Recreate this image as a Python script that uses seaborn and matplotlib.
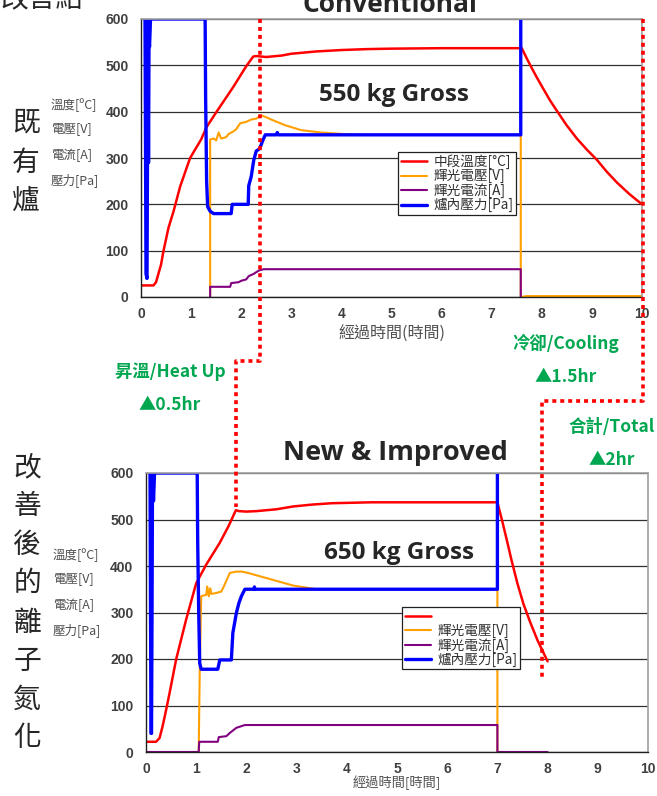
import matplotlib
matplotlib.use("Agg")
import matplotlib.pyplot as plt
import seaborn as sns
from matplotlib.lines import Line2D

# ---- conventional furnace (top) ----
top_temp_t = [0, 0.25, 0.3, 0.4, 0.45, 0.55, 0.65, 0.78, 0.98, 1.2, 1.31, 1.51, 1.84, 2.1, 2.24,
              2.3, 2.5, 2.8, 3.0, 3.5, 4.0, 4.5, 5.0, 6.0, 7.6, 7.7, 7.8, 7.9, 8.0, 8.16, 8.3,
              8.5, 8.7, 8.9, 9.1, 9.3, 9.5, 9.75, 10.0]
top_temp = [25, 25, 32, 70, 100, 150, 185, 238, 300, 340, 367, 400, 453, 498, 519,
            520, 518, 521, 525, 530, 533, 535, 536, 537, 537, 515, 494, 474, 455, 425, 402,
            370, 342, 318, 296, 270, 247, 222, 200]

top_volt_t = [1.38, 1.38, 1.45, 1.5, 1.55, 1.6, 1.7, 1.75, 1.84, 1.9, 1.98, 2.1, 2.2, 2.3, 2.4,
              2.5, 2.6, 2.87, 3.2, 3.6, 4.0, 4.5, 5.5, 7.58, 7.58, 7.7, 10.0]
top_volt = [0, 340, 342, 338, 355, 342, 345, 352, 357, 362, 375, 378, 383, 385, 392,
            388, 383, 371, 360, 355, 352, 350, 350, 350, 0, 2, 2]

top_curr_t = [1.38, 1.38, 1.78, 1.8, 1.95, 2.0, 2.1, 2.15, 2.25, 2.35, 2.45, 7.58, 7.58]
top_curr = [0, 22, 22, 30, 32, 35, 38, 45, 50, 57, 60, 60, 0]

top_pres_t = [0.08, 0.1, 0.12, 0.13, 0.14, 0.15, 0.16, 0.17, 0.19, 1.28, 1.29, 1.31, 1.33, 1.38,
              1.45, 1.8, 1.82, 2.14, 2.15, 2.2, 2.25, 2.3, 2.37, 2.42, 2.48, 2.7, 2.72, 2.74,
              7.58, 7.58]
top_pres = [600, 50, 40, 300, 600, 290, 560, 540, 600, 600, 430, 250, 195, 185,
            180, 180, 200, 200, 240, 260, 295, 315, 320, 335, 350, 350, 355, 350,
            350, 600]

# ---- improved furnace (bottom) ----
bot_temp_t = [0, 0.2, 0.27, 0.33, 0.4, 0.47, 0.6, 0.8, 1.0, 1.2, 1.47, 1.65, 1.79, 1.85, 2.0,
              2.2, 2.6, 2.93, 3.3, 3.7, 4.5, 7.0, 7.1, 7.2, 7.28, 7.4, 7.52, 7.65, 7.8, 8.0]
bot_temp = [22, 22, 30, 55, 90, 127, 199, 285, 363, 403, 450, 487, 520, 518, 517,
            518, 522, 528, 532, 535, 537, 537, 495, 450, 413, 362, 318, 280, 240, 195]

bot_volt_t = [1.05, 1.07, 1.1, 1.2, 1.22, 1.25, 1.28, 1.3, 1.4, 1.5, 1.55, 1.67, 1.8, 1.9,
              2.0, 2.4, 2.93, 3.4, 7.0, 7.0]
bot_volt = [0, 170, 335, 338, 356, 335, 352, 340, 342, 345, 356, 385, 388, 388,
            386, 374, 358, 350, 350, 0]

bot_curr_t = [0, 1.05, 1.06, 1.43, 1.45, 1.6, 1.67, 1.8, 1.97, 7.0, 7.0, 8.0]
bot_curr = [0, 0, 22, 22, 32, 34, 41, 52, 58, 58, 0, 0]

bot_pres_t = [0.08, 0.09, 0.1, 0.11, 0.12, 0.13, 0.15, 0.17, 1.02, 1.03, 1.05, 1.07, 1.1,
              1.43, 1.47, 1.7, 1.73, 1.8, 1.85, 1.9, 1.97, 2.15, 2.16, 2.17, 7.0, 7.0]
bot_pres = [600, 300, 40, 40, 300, 600, 540, 600, 600, 450, 300, 191, 178,
            178, 198, 198, 256, 299, 320, 335, 350, 350, 355, 350, 350, 600]

top_labels = ["中段溫度[°C]", "輝光電壓[V]", "輝光電流[A]", "爐內壓力[Pa]"]
bot_labels = ["", "輝光電壓[V]", "輝光電流[A]", "爐內壓力[Pa]"]
colors = ["#ff0000", "#ffa000", "#800080", "#0000ff"]
widths = [1.8, 1.5, 1.5, 2.4]
x_ticks = list(range(0, 11))
y_ticks = [0, 100, 200, 300, 400, 500, 600]

sns.set_style("white")
plt.rcParams['font.family'] = ['Noto Sans CJK TC', 'DejaVu Sans']

W, H = 657, 796
fig = plt.figure(figsize=(W / 100, H / 100), dpi=100)


def fx(px):
    return px / W


def fy(py):
    return 1 - py / H


def draw_panel(ax, series, labels, xlabel, xlabel_size, xlabel_pad, leg_anchor):
    for (t, v), c, lw in zip(series, colors, widths):
        sns.lineplot(x=t, y=v, ax=ax, color=c, lw=lw, sort=False, estimator=None)
    ax.set_xlim(0, 10)
    ax.set_ylim(0, 600)
    ax.set_xticks(x_ticks)
    ax.set_yticks(y_ticks)
    ax.yaxis.grid(True, color="#303030", lw=0.9)
    ax.xaxis.grid(False)
    for s in ["left", "bottom"]:
        ax.spines[s].set_color("#202020")
        ax.spines[s].set_linewidth(1.0)
    for s in ["top", "right"]:
        ax.spines[s].set_color("#a0a0a0")
        ax.spines[s].set_linewidth(1.2)
    ax.tick_params(axis="x", direction="in", length=4, width=0.8, color="#303030",
                   labelsize=10, labelcolor="#404040", pad=7)
    ax.tick_params(axis="y", length=0, labelsize=10, labelcolor="#404040", pad=9)
    for lb in ax.get_xticklabels() + ax.get_yticklabels():
        lb.set_fontweight("bold")
        lb.set_family(["Liberation Sans", "DejaVu Sans"])
    ax.set_xlabel(xlabel, fontsize=xlabel_size, color="#505050", labelpad=xlabel_pad)
    ax.set_ylabel("")
    leg = ax.legend(ax.get_lines()[:4], labels, loc="upper left", bbox_to_anchor=leg_anchor,
                    fontsize=9.8, frameon=True, fancybox=False, framealpha=1,
                    edgecolor="#202020", handlelength=1.9, labelspacing=0.0,
                    borderpad=0.2, handletextpad=0.5, borderaxespad=0)
    leg.get_frame().set_linewidth(0.9)
    for txt in leg.get_texts():
        txt.set_color("#303030")


ax1 = fig.add_axes([fx(141), fy(297), fx(642) - fx(141), (297 - 19) / H])
draw_panel(ax1, [(top_temp_t, top_temp), (top_volt_t, top_volt), (top_curr_t, top_curr),
                 (top_pres_t, top_pres)], top_labels, "經過時間(時間)", 11.5, 4, (0.513, 0.522))

ax2 = fig.add_axes([fx(146), fy(752), fx(648) - fx(146), (752 - 473) / H])
draw_panel(ax2, [(bot_temp_t, bot_temp), (bot_volt_t, bot_volt), (bot_curr_t, bot_curr),
                 (bot_pres_t, bot_pres)], bot_labels, "經過時間[時間]", 9.5, 0, (0.51, 0.52))

# titles
title_font = ["Open Sans", "DejaVu Sans"]
fig.text(fx(390), fy(12), "Conventional", ha="center", va="baseline", fontsize=19,
         fontweight="bold", family=title_font)
fig.text(fx(394), fy(95), "550 kg Gross", ha="center", va="center", fontsize=17.5,
         fontweight="bold", family=title_font)
fig.text(fx(395), fy(453), "New & Improved", ha="center", va="center", fontsize=19.5,
         fontweight="bold", family=title_font)
fig.text(fx(399), fy(553), "650 kg Gross", ha="center", va="center", fontsize=17.5,
         fontweight="bold", family=title_font)

# side labels
fig.text(fx(0), fy(13), "改善結", ha="left", va="bottom", fontsize=20)
for ch, py in zip(["既", "有", "爐"], [123, 163, 201]):
    fig.text(fx(26), fy(py), ch, ha="center", va="center", fontsize=20)
for ch, py in zip(["改", "善", "後", "的", "離", "子", "氮", "化"],
                  [467, 506, 545, 583, 623, 661, 700, 738]):
    fig.text(fx(27), fy(py), ch, ha="center", va="center", fontsize=20)
unit_labels = ["溫度[ºC]", "電壓[V]", "電流[A]", "壓力[Pa]"]
for lab, py in zip(unit_labels, [105, 129, 155, 180]):
    fig.text(fx(51), fy(py), lab, ha="left", va="center", fontsize=9, color="#505050")
for lab, py in zip(unit_labels, [555, 579, 605, 630]):
    fig.text(fx(53), fy(py), lab, ha="left", va="center", fontsize=9, color="#505050")

# green notes
green = "#00a650"
notes = [("昇溫/Heat Up", 170, 372), ("▲0.5hr", 170, 405),
         ("冷卻/Cooling", 566, 343), ("▲1.5hr", 566, 377),
         ("合計/Total", 612, 427), ("▲2hr", 612, 460)]
for txt, px, py in notes:
    fig.text(fx(px), fy(py), txt, ha="center", va="center", fontsize=12.5,
             fontweight="bold", color=green, family=["Noto Sans CJK TC", "DejaVu Sans"])

# red dotted connectors
for xs, ys in [([260, 260, 236, 236], [19, 361, 361, 507]),
               ([643, 643, 542, 542], [19, 401, 401, 677])]:
    fig.add_artist(Line2D([fx(x) for x in xs], [fy(y) for y in ys], color="#ff0000",
                          lw=2.6, linestyle=(0, (1.1, 1.1)), transform=fig.transFigure))

fig.savefig("out.png", dpi=100, facecolor="white")
